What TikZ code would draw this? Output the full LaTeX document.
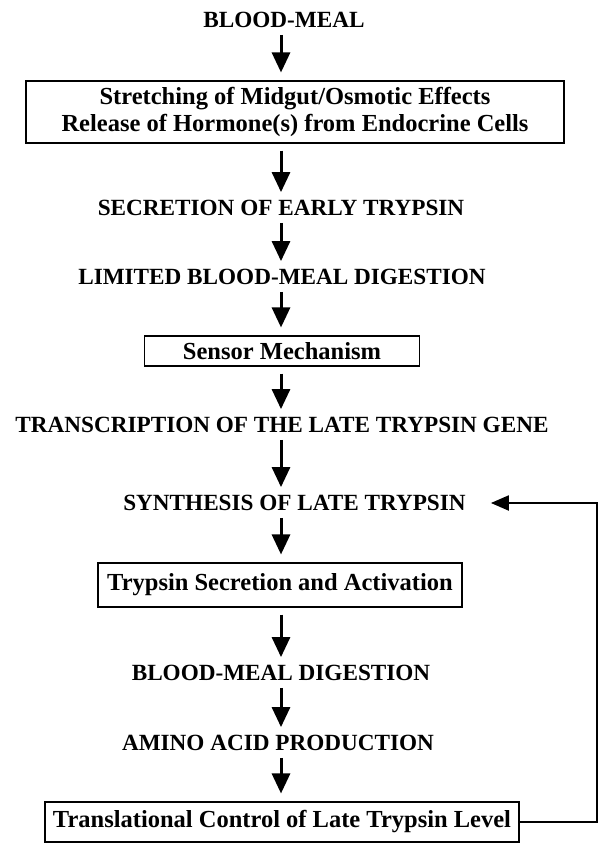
\documentclass[tikz,border=0pt]{standalone}
\usepackage{fontspec}
\setmainfont{Liberation Serif}
\usetikzlibrary{arrows.meta, calc, positioning}

\begin{document}
\begin{tikzpicture}[x=1pt, y=-1pt,
    stage/.style={font=\fontsize{23.2pt}{27pt}\selectfont\bfseries, inner sep=0pt, text height=15.4pt, text depth=0pt},
    stepbox/.style={draw, line width=1.1pt, inner sep=0pt, align=center, font=\fontsize{24.5pt}{27pt}\selectfont\bfseries},
    flow/.style={-{Triangle[width=18pt, length=20pt]}, line width=3pt, shorten <=7pt, shorten >=8pt},
    feedback/.style={-{Triangle[width=15pt, length=18pt]}, line width=2pt}]
    \useasboundingbox (0,0) rectangle (599,843);

    % Column of stages
    \coordinate (axis) at (281,0);
    \coordinate (loop) at (597,0);
    \node[stage] (meal) at (284,20) {BLOOD-MEAL};
    \node[stepbox, minimum width=538pt, minimum height=62pt] (stretch) at (295,112)
        {Stretching of Midgut/Osmotic Effects\\Release of Hormone(s) from Endocrine Cells};
    \node[stage] (early) at (281,208) {SECRETION OF EARLY TRYPSIN};
    \node[stage] (limited) at (282,277) {LIMITED BLOOD-MEAL DIGESTION};
    \node[stepbox, minimum width=275pt, minimum height=30pt] (sensor) at (282,351) {Sensor Mechanism};
    \node[stage] (transcr) at (282,425) {TRANSCRIPTION OF THE LATE TRYPSIN GENE};
    \node[stage] (synth) at (294.5,503) {SYNTHESIS OF LATE TRYPSIN};
    \node[stepbox, minimum width=364pt, minimum height=44pt] (activ) at (280,585) {Trypsin Secretion and Activation};
    \node[stage] (digest) at (281,673) {BLOOD-MEAL DIGESTION};
    \node[stage] (amino) at (278,743) {AMINO ACID PRODUCTION};
    \node[stepbox, minimum width=474pt, minimum height=40pt] (transl) at (282,822) {Translational Control of Late Trypsin Level};

    % Downward arrows
    \draw[flow] (meal.south -| axis) -- (stretch.north -| axis);
    \draw[flow] (stretch.south -| axis) -- (early.north -| axis);
    \draw[flow] (early.south -| axis) -- (limited.north -| axis);
    \draw[flow] (limited.south -| axis) -- (sensor.north -| axis);
    \draw[flow] (sensor.south -| axis) -- (transcr.north -| axis);
    \draw[flow] (transcr.south -| axis) -- (synth.north -| axis);
    \draw[flow] (synth.south -| axis) -- (activ.north -| axis);
    \draw[flow] (activ.south -| axis) -- (digest.north -| axis);
    \draw[flow] (digest.south -| axis) -- (amino.north -| axis);
    \draw[flow] (amino.south -| axis) -- (transl.north -| axis);

    % Feedback loop
    \draw[feedback, shorten >=25pt] (transl.east) -- (transl.east -| loop) -- (synth.east -| loop) -- (synth.east);
\end{tikzpicture}
\end{document}
